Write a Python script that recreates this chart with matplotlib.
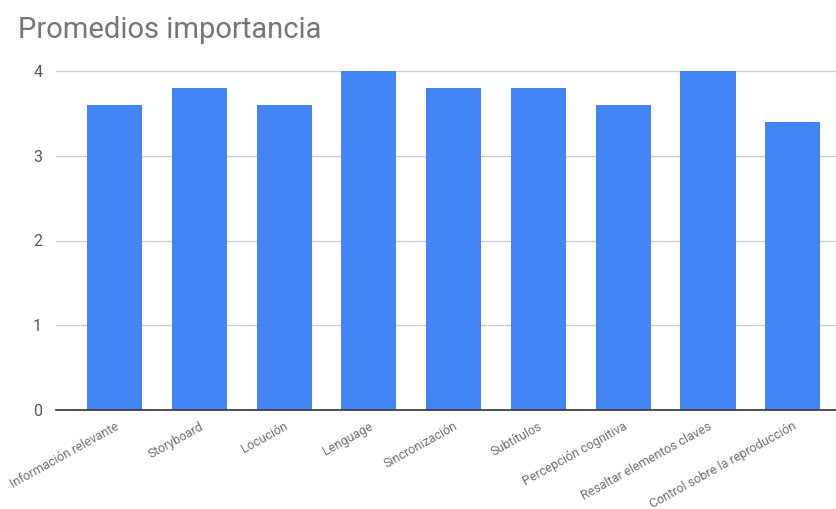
import matplotlib.pyplot as plt

# datos
categorias = ['Información relevante', 'Storyboard', 'Locución', 'Lenguage',
              'Sincronización', 'Subtítulos', 'Percepción cognitiva',
              'Resaltar elementos claves', 'Control sobre la reproducción']
promedios = [3.6, 3.8, 3.6, 4.0, 3.8, 3.8, 3.6, 4.0, 3.4]
y_ticks = [0, 1, 2, 3, 4]

plt.rcParams['font.family'] = ['Roboto', 'DejaVu Sans']

fig = plt.figure(figsize=(8.36, 5.09), dpi=100)
ax = fig.add_axes([56 / 836, 1 - 410 / 509, 780 / 836, 339 / 509])

x = range(len(categorias))
ax.bar(x, promedios, width=0.65, color='#4285F4', zorder=3)

ax.set_xlim(-0.69, 8.51)
ax.set_ylim(0, 4)
ax.set_yticks(y_ticks)
ax.set_yticklabels([str(v) for v in y_ticks], fontsize=11.5, color='#555555')
ax.grid(axis='y', color='#cccccc', linewidth=1, zorder=0)
ax.tick_params(axis='y', length=0, pad=10)
ax.tick_params(axis='x', length=0, pad=7)
ax.set_xticks(list(x))
ax.set_xticklabels(categorias, rotation=29, ha='right', rotation_mode='anchor',
                   fontsize=9, color='#707070')
for lbl in ax.get_xticklabels():
    lbl.set_x(lbl.get_position()[0])

for s in ['top', 'right', 'left']:
    ax.spines[s].set_visible(False)
ax.spines['bottom'].set_color('#333333')
ax.spines['bottom'].set_linewidth(1.2)
ax.spines['bottom'].set_zorder(4)

fig.text(18 / 836, 1 - 30 / 509, 'Promedios importancia', fontsize=21,
         color='#757575', va='center', ha='left')

fig.savefig('out.png', dpi=100)
